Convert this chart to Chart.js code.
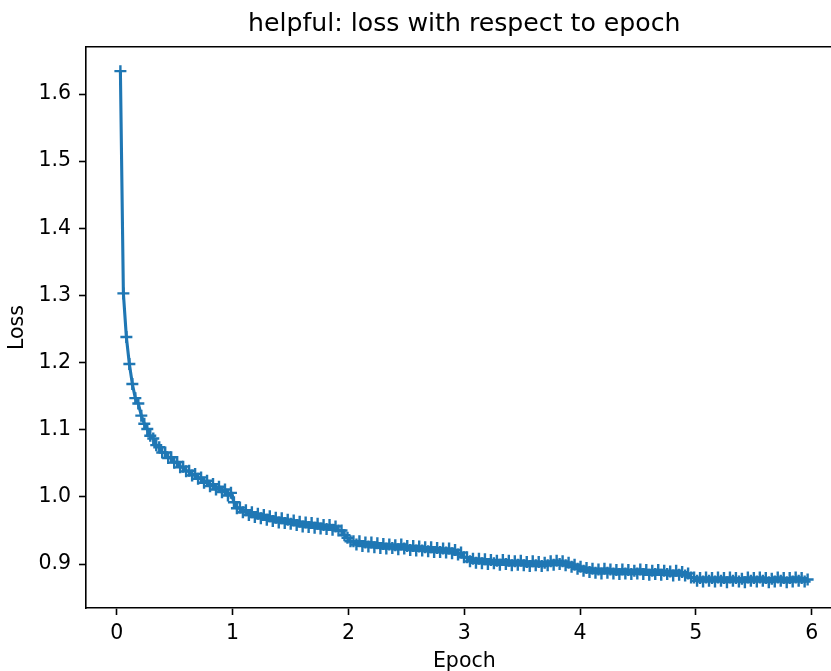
<!DOCTYPE html>
<html>
<head>
<meta charset="utf-8">
<script src="https://cdn.jsdelivr.net/npm/chart.js@4.4.1/dist/chart.umd.min.js"></script>
<style>
html,body{margin:0;padding:0;overflow:hidden;background:#fff;}
#wrap{position:relative;width:851px;height:690px;}
</style>
</head>
<body>
<div id="wrap"><canvas id="c" width="851" height="690"></canvas></div>
<script>
const titleText = 'helpful: loss with respect to epoch';
const xLabel = 'Epoch';
const yLabel = 'Loss';
const xTicks = [0, 1, 2, 3, 4, 5, 6];
const yTicks = [0.9, 1.0, 1.1, 1.2, 1.3, 1.4, 1.5, 1.6];
const xMin = -0.266, xMax = 6.267;
const yMin = 0.8345, yMax = 1.670;
// logged every fixed number of steps: first log at epoch 0.031, then every 0.0258 epoch
const firstEpoch = 0.031;
const epochStep = 0.0258;
const lossValues = [
1.634, 1.303, 1.238, 1.198, 1.168, 1.147, 1.139, 1.121, 1.109, 1.101,
1.091, 1.087, 1.077, 1.074, 1.066, 1.066, 1.058, 1.059, 1.051, 1.052,
1.044, 1.045, 1.038, 1.039, 1.032, 1.034, 1.027, 1.029, 1.021, 1.024,
1.016, 1.019, 1.011, 1.015, 1.007, 1.011, 1.002, 1.006, 0.992, 0.983,
0.984, 0.977, 0.980, 0.973, 0.977, 0.970, 0.975, 0.968, 0.973, 0.966,
0.971, 0.964, 0.969, 0.962, 0.968, 0.961, 0.966, 0.960, 0.965, 0.958,
0.963, 0.956, 0.962, 0.955, 0.961, 0.954, 0.960, 0.953, 0.958, 0.952,
0.958, 0.951, 0.956, 0.950, 0.950, 0.943, 0.939, 0.934, 0.934, 0.929,
0.934, 0.927, 0.932, 0.926, 0.932, 0.925, 0.931, 0.924, 0.930, 0.923,
0.929, 0.924, 0.928, 0.922, 0.929, 0.923, 0.927, 0.921, 0.927, 0.920,
0.926, 0.920, 0.925, 0.919, 0.925, 0.918, 0.924, 0.918, 0.923, 0.917,
0.923, 0.916, 0.921, 0.914, 0.917, 0.910, 0.910, 0.904, 0.908, 0.902,
0.908, 0.901, 0.907, 0.900, 0.906, 0.901, 0.905, 0.899, 0.906, 0.900,
0.905, 0.898, 0.904, 0.899, 0.905, 0.898, 0.903, 0.897, 0.904, 0.898,
0.903, 0.897, 0.902, 0.898, 0.904, 0.899, 0.905, 0.900, 0.904, 0.898,
0.902, 0.896, 0.899, 0.893, 0.896, 0.890, 0.894, 0.888, 0.893, 0.887,
0.892, 0.886, 0.893, 0.887, 0.892, 0.886, 0.891, 0.885, 0.892, 0.886,
0.891, 0.885, 0.890, 0.886, 0.892, 0.885, 0.891, 0.884, 0.890, 0.885,
0.891, 0.884, 0.890, 0.885, 0.889, 0.883, 0.890, 0.884, 0.888, 0.883,
0.886, 0.880, 0.880, 0.875, 0.879, 0.874, 0.880, 0.875, 0.879, 0.874,
0.880, 0.875, 0.879, 0.873, 0.880, 0.875, 0.879, 0.874, 0.878, 0.873,
0.880, 0.875, 0.879, 0.874, 0.880, 0.875, 0.879, 0.873, 0.878, 0.874,
0.880, 0.875, 0.879, 0.873, 0.879, 0.874, 0.880, 0.875, 0.879, 0.874,
0.877
];

const points = lossValues.map((v, i) => ({x: firstEpoch + i * epochStep, y: v}));

const FONT = 'DejaVu Sans';
const tickFont = {family: FONT, size: 20.5, weight: 'normal'};

const spinePlugin = {
  id: 'spines',
  afterDatasetsDraw(chart) {
    const {ctx, chartArea: a} = chart;
    ctx.save();
    ctx.strokeStyle = '#000';
    ctx.lineWidth = 1.6;
    ctx.beginPath();
    ctx.moveTo(a.right, a.top);
    ctx.lineTo(a.right, a.bottom);
    ctx.stroke();
    ctx.restore();
  }
};

new Chart(document.getElementById('c'), {
  type: 'line',
  data: {
    datasets: [{
      data: points,
      xAxisID: 'x',
      yAxisID: 'y',
      borderColor: '#1f77b4',
      backgroundColor: '#1f77b4',
      borderWidth: 3.1,
      tension: 0,
      fill: false,
      pointStyle: 'cross',
      pointRadius: 6,
      pointBorderWidth: 2.4,
      pointBorderColor: '#1f77b4',
      pointHoverRadius: 6
    }]
  },
  options: {
    responsive: false,
    animation: false,
    events: [],
    layout: {padding: 0},
    plugins: {
      legend: {display: false},
      tooltip: {enabled: false},
      title: {display: false}
    },
    scales: {
      x: {
        type: 'linear',
        axis: 'x',
        position: 'bottom',
        min: xMin,
        max: xMax,
        afterBuildTicks(s) { s.ticks = xTicks.map(v => ({value: v})); },
        afterFit(s) { s.height = 82; },
        grid: {drawOnChartArea: false, drawTicks: true, tickLength: 7, tickWidth: 1.6, tickColor: '#000'},
        border: {display: true, color: '#000', width: 1.6},
        ticks: {color: '#000', font: tickFont, padding: 6, maxRotation: 0, autoSkip: false,
                callback: v => String(v)},
        title: {display: true, text: xLabel, color: '#000', font: tickFont, padding: {top: 0, bottom: 15.7}}
      },
      top: {
        type: 'linear',
        axis: 'x',
        position: 'top',
        min: xMin,
        max: xMax,
        afterFit(s) { s.height = 47; },
        grid: {display: true, drawOnChartArea: false, drawTicks: false},
        border: {display: true, color: '#000', width: 1.6},
        ticks: {display: false},
        title: {display: true, text: titleText, color: '#000',
                font: {family: FONT, size: 25.2, weight: 'normal'}, padding: {top: 9.6, bottom: 0}}
      },
      y: {
        type: 'linear',
        min: yMin,
        max: yMax,
        afterBuildTicks(s) { s.ticks = yTicks.map(v => ({value: v})); },
        afterFit(s) { s.width = 86; },
        grid: {drawOnChartArea: false, drawTicks: true, tickLength: 7, tickWidth: 1.6, tickColor: '#000'},
        border: {display: true, color: '#000', width: 1.6},
        ticks: {color: '#000', font: tickFont, padding: 8, autoSkip: false,
                callback: v => Number(v).toFixed(1)},
        title: {display: true, text: yLabel, color: '#000', font: tickFont, padding: {top: 5.2, bottom: 0}}
      }
    }
  },
  plugins: [spinePlugin]
});
</script>
</body>
</html>
